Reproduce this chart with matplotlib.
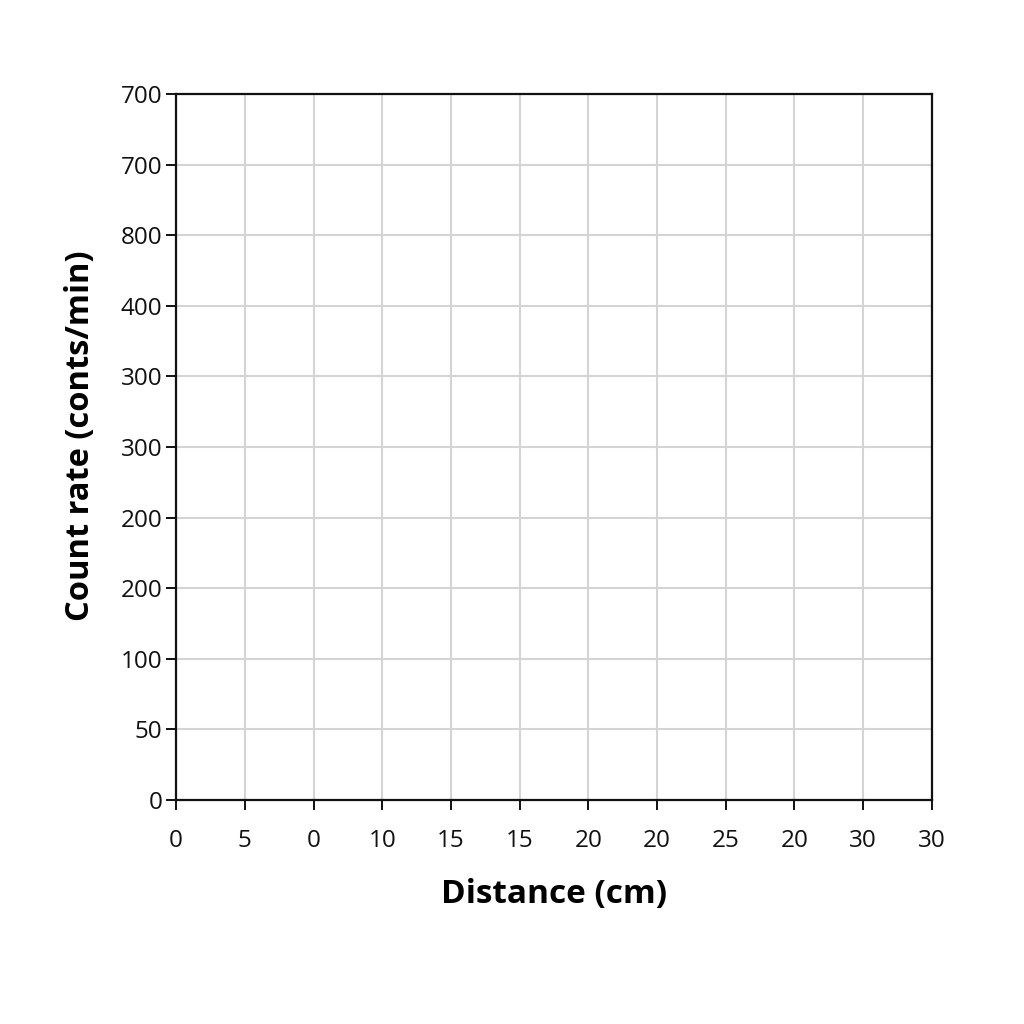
import matplotlib
matplotlib.use("Agg")
import matplotlib.pyplot as plt

plt.rcParams['font.family'] = ['Open Sans', 'DejaVu Sans']

# tick labels exactly as printed on the reference (empty plot)
x_labels = ["0", "5", "0", "10", "15", "15", "20", "20", "25", "20", "30", "30"]
y_labels = ["0", "50", "100", "200", "200", "300", "300", "400", "800", "700", "700"]

fig = plt.figure(figsize=(10.24, 10.24), dpi=100)
ax = fig.add_axes([0.172, 0.219, 0.738, 0.689])

xpos = list(range(len(x_labels)))
ypos = list(range(len(y_labels)))
ax.set_xlim(xpos[0], xpos[-1])
ax.set_ylim(ypos[0], ypos[-1])
ax.set_xticks(xpos)
ax.set_xticklabels(x_labels)
ax.set_yticks(ypos)
ax.set_yticklabels(y_labels)

ax.grid(True, color="#d4d4d4", linewidth=1.5)
ax.set_axisbelow(True)
for s in ax.spines.values():
    s.set_linewidth(1.6)
    s.set_color("#111111")
ax.tick_params(axis="both", direction="out", length=7, width=1.4,
               labelsize=17.5, color="#111111", labelcolor="#111111")
ax.tick_params(axis="x", pad=14)
ax.tick_params(axis="y", pad=3)

ax.set_xlabel("Distance (cm)", fontsize=24, fontweight="bold", labelpad=18)
ax.set_ylabel("Count rate (conts/min)", fontsize=23.5, fontweight="bold")
ax.yaxis.set_label_coords(-0.105, 0.516)

fig.savefig("out.png", dpi=100, facecolor="white")
